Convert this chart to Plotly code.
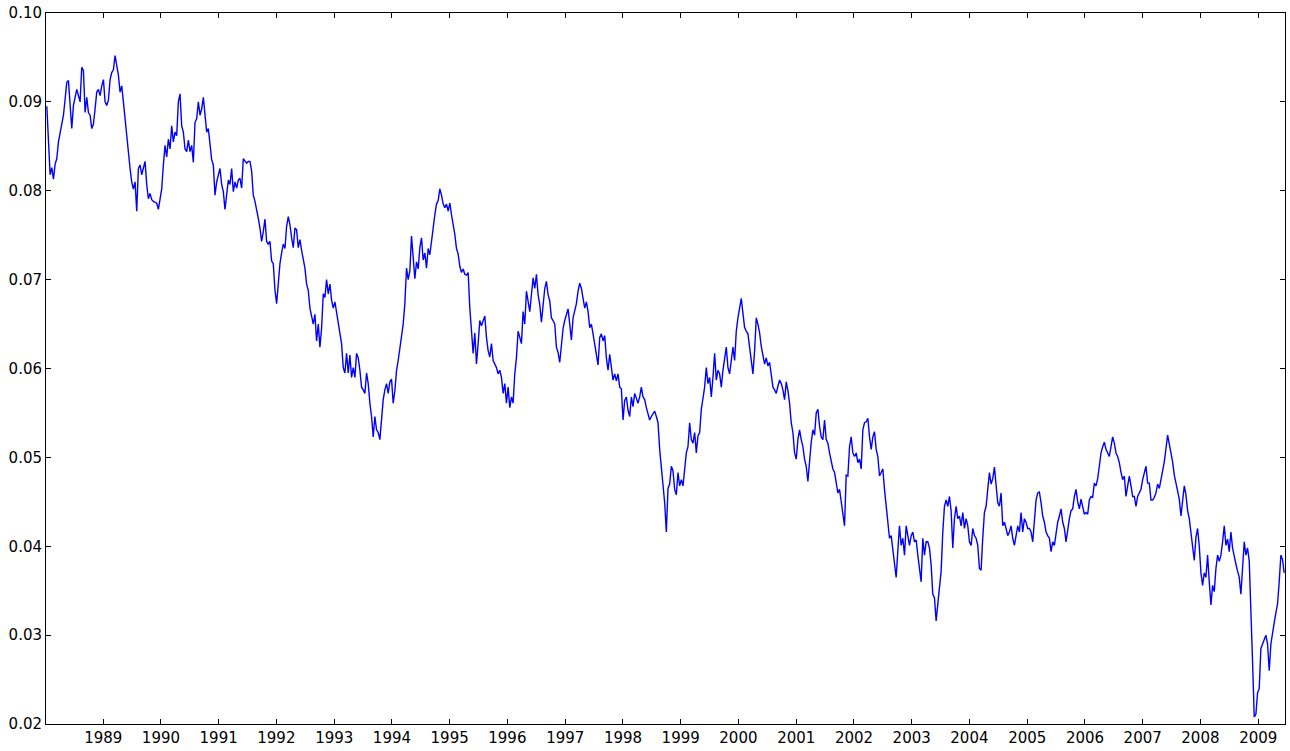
import pandas as pd
import plotly.graph_objects as go

# 10-year yield (decimal), every 10.5 days
seg_1988_89 = [0.0895, 0.0855, 0.0818, 0.0826, 0.0813, 0.0830, 0.0836, 0.0855, 0.0866, 0.0877,
               0.0885, 0.0903, 0.0922, 0.0924, 0.0895, 0.0870, 0.0896, 0.0907, 0.0914, 0.0907,
               0.0900, 0.0939, 0.0935, 0.0888, 0.0905, 0.0888, 0.0885, 0.0870, 0.0875, 0.0892,
               0.0911, 0.0914, 0.0907, 0.0918, 0.0925, 0.0900, 0.0896, 0.0902, 0.0925, 0.0933,
               0.0936, 0.0952, 0.0941, 0.0930, 0.0911, 0.0918, 0.0900, 0.0881, 0.0863, 0.0836,
               0.0825, 0.0810, 0.0802, 0.0810, 0.0777, 0.0825, 0.0829, 0.0818, 0.0825]
seg_1989_91 = [0.0833, 0.0807, 0.0791, 0.0797, 0.0790, 0.0788, 0.0787, 0.0786, 0.0779, 0.0793,
               0.0802, 0.0829, 0.0851, 0.0838, 0.0858, 0.0847, 0.0873, 0.0855, 0.0866, 0.0862,
               0.0900, 0.0909, 0.0873, 0.0866, 0.0847, 0.0844, 0.0857, 0.0844, 0.0851, 0.0832,
               0.0877, 0.0881, 0.0900, 0.0885, 0.0892, 0.0905, 0.0885, 0.0866, 0.0870, 0.0851,
               0.0835, 0.0829, 0.0795, 0.0810, 0.0818, 0.0825, 0.0807, 0.0799, 0.0779, 0.0799,
               0.0812, 0.0807, 0.0825, 0.0799, 0.0810, 0.0803, 0.0812, 0.0814, 0.0803, 0.0836,
               0.0833, 0.0831, 0.0833]
seg_1991_93 = [0.0833, 0.0822, 0.0795, 0.0788, 0.0780, 0.0769, 0.0758, 0.0743, 0.0754, 0.0768,
               0.0743, 0.0740, 0.0743, 0.0721, 0.0718, 0.0688, 0.0673, 0.0695, 0.0718, 0.0730,
               0.0740, 0.0735, 0.0760, 0.0771, 0.0762, 0.0747, 0.0736, 0.0758, 0.0756, 0.0736,
               0.0745, 0.0733, 0.0724, 0.0713, 0.0695, 0.0688, 0.0668, 0.0657, 0.0650, 0.0661,
               0.0631, 0.0650, 0.0624, 0.0645, 0.0684, 0.0680, 0.0700, 0.0684, 0.0695, 0.0677,
               0.0668, 0.0675, 0.0662, 0.0654, 0.0639, 0.0628, 0.0601, 0.0595, 0.0617, 0.0595,
               0.0615, 0.0590, 0.0601]
seg_1993_95 = [0.0590, 0.0617, 0.0612, 0.0598, 0.0579, 0.0576, 0.0572, 0.0595, 0.0583, 0.0561,
               0.0546, 0.0523, 0.0546, 0.0531, 0.0528, 0.0520, 0.0546, 0.0565, 0.0576, 0.0583,
               0.0572, 0.0585, 0.0588, 0.0561, 0.0575, 0.0598, 0.0609, 0.0624, 0.0639, 0.0650,
               0.0673, 0.0713, 0.0700, 0.0710, 0.0749, 0.0720, 0.0701, 0.0720, 0.0712, 0.0736,
               0.0747, 0.0722, 0.0730, 0.0713, 0.0735, 0.0728, 0.0747, 0.0758, 0.0773, 0.0785,
               0.0789, 0.0802, 0.0795, 0.0785, 0.0781, 0.0785, 0.0777, 0.0786, 0.0773, 0.0762]
seg_1995_96 = [0.0751, 0.0735, 0.0729, 0.0715, 0.0708, 0.0712, 0.0706, 0.0705, 0.0708, 0.0668,
               0.0646, 0.0617, 0.0640, 0.0605, 0.0628, 0.0654, 0.0648, 0.0654, 0.0659, 0.0635,
               0.0620, 0.0613, 0.0628, 0.0609, 0.0605, 0.0601, 0.0594, 0.0598, 0.0590, 0.0572,
               0.0583, 0.0561, 0.0579, 0.0556, 0.0568, 0.0561, 0.0594, 0.0612, 0.0642, 0.0635,
               0.0628, 0.0664, 0.0650, 0.0687, 0.0676, 0.0664, 0.0683, 0.0702, 0.0690, 0.0706,
               0.0683, 0.0672, 0.0652, 0.0668, 0.0690, 0.0698, 0.0683, 0.0676, 0.0657, 0.0654]
seg_1996_98 = [0.0650, 0.0624, 0.0618, 0.0607, 0.0626, 0.0645, 0.0654, 0.0660, 0.0667, 0.0650,
               0.0632, 0.0657, 0.0664, 0.0673, 0.0687, 0.0696, 0.0690, 0.0679, 0.0668, 0.0675,
               0.0664, 0.0646, 0.0650, 0.0639, 0.0628, 0.0620, 0.0604, 0.0635, 0.0639, 0.0631,
               0.0637, 0.0612, 0.0598, 0.0616, 0.0598, 0.0587, 0.0594, 0.0586, 0.0594, 0.0579,
               0.0577, 0.0542, 0.0564, 0.0568, 0.0553, 0.0546, 0.0568, 0.0557, 0.0572, 0.0565,
               0.0561, 0.0568, 0.0579, 0.0568, 0.0565, 0.0556, 0.0549, 0.0542, 0.0546, 0.0550]
seg_1998_00 = [0.0552, 0.0546, 0.0539, 0.0509, 0.0490, 0.0475, 0.0449, 0.0416, 0.0465, 0.0470,
               0.0490, 0.0485, 0.0464, 0.0458, 0.0483, 0.0468, 0.0475, 0.0468, 0.0490, 0.0505,
               0.0512, 0.0539, 0.0520, 0.0516, 0.0528, 0.0505, 0.0524, 0.0528, 0.0554, 0.0565,
               0.0579, 0.0601, 0.0583, 0.0590, 0.0568, 0.0590, 0.0617, 0.0587, 0.0598, 0.0594,
               0.0579, 0.0598, 0.0612, 0.0624, 0.0601, 0.0594, 0.0609, 0.0624, 0.0609, 0.0642,
               0.0657, 0.0668, 0.0679, 0.0662, 0.0646, 0.0642, 0.0639, 0.0624, 0.0605, 0.0594]
seg_2000_02 = [0.0620, 0.0657, 0.0650, 0.0640, 0.0625, 0.0615, 0.0605, 0.0612, 0.0603, 0.0607,
               0.0590, 0.0579, 0.0576, 0.0572, 0.0580, 0.0587, 0.0583, 0.0576, 0.0565, 0.0585,
               0.0575, 0.0561, 0.0539, 0.0528, 0.0505, 0.0498, 0.0520, 0.0531, 0.0520, 0.0512,
               0.0498, 0.0490, 0.0473, 0.0498, 0.0517, 0.0531, 0.0525, 0.0550, 0.0554, 0.0535,
               0.0523, 0.0520, 0.0542, 0.0520, 0.0516, 0.0505, 0.0494, 0.0487, 0.0483, 0.0471,
               0.0460, 0.0464, 0.0452, 0.0438, 0.0423, 0.0480, 0.0479, 0.0512, 0.0523, 0.0505]
seg_2002_03 = [0.0501, 0.0505, 0.0494, 0.0498, 0.0487, 0.0531, 0.0539, 0.0540, 0.0544, 0.0523,
               0.0509, 0.0523, 0.0529, 0.0509, 0.0501, 0.0479, 0.0483, 0.0487, 0.0464, 0.0445,
               0.0431, 0.0409, 0.0412, 0.0398, 0.0380, 0.0365, 0.0395, 0.0423, 0.0401, 0.0409,
               0.0390, 0.0423, 0.0412, 0.0401, 0.0412, 0.0416, 0.0405, 0.0407, 0.0390, 0.0372,
               0.0360, 0.0409, 0.0390, 0.0405, 0.0405, 0.0398, 0.0379, 0.0346, 0.0342, 0.0316,
               0.0335, 0.0360, 0.0372, 0.0416, 0.0445, 0.0452, 0.0445, 0.0456, 0.0440, 0.0398]
seg_2003_05 = [0.0431, 0.0445, 0.0431, 0.0434, 0.0423, 0.0438, 0.0420, 0.0431, 0.0423, 0.0405,
               0.0401, 0.0420, 0.0412, 0.0409, 0.0401, 0.0375, 0.0373, 0.0410, 0.0438, 0.0445,
               0.0468, 0.0483, 0.0470, 0.0476, 0.0489, 0.0468, 0.0449, 0.0445, 0.0460, 0.0423,
               0.0427, 0.0420, 0.0412, 0.0416, 0.0423, 0.0409, 0.0401, 0.0412, 0.0423, 0.0416,
               0.0438, 0.0416, 0.0431, 0.0427, 0.0420, 0.0420, 0.0416, 0.0405, 0.0434, 0.0452,
               0.0460, 0.0461, 0.0449, 0.0434, 0.0427, 0.0416, 0.0412, 0.0409, 0.0394, 0.0405]
seg_2005_07 = [0.0401, 0.0416, 0.0427, 0.0434, 0.0442, 0.0427, 0.0420, 0.0405, 0.0420, 0.0431,
               0.0440, 0.0442, 0.0456, 0.0464, 0.0450, 0.0442, 0.0453, 0.0445, 0.0436, 0.0438,
               0.0436, 0.0452, 0.0456, 0.0455, 0.0471, 0.0468, 0.0476, 0.0490, 0.0505, 0.0512,
               0.0517, 0.0509, 0.0505, 0.0501, 0.0512, 0.0523, 0.0516, 0.0505, 0.0501, 0.0494,
               0.0483, 0.0475, 0.0479, 0.0456, 0.0468, 0.0479, 0.0468, 0.0456, 0.0456, 0.0445,
               0.0456, 0.0460, 0.0464, 0.0475, 0.0483, 0.0490, 0.0471, 0.0471, 0.0452, 0.0452]
seg_2007_09 = [0.0455, 0.0460, 0.0470, 0.0465, 0.0475, 0.0485, 0.0495, 0.0510, 0.0525, 0.0515,
               0.0505, 0.0495, 0.0480, 0.0470, 0.0462, 0.0453, 0.0434, 0.0455, 0.0468, 0.0458,
               0.0440, 0.0431, 0.0416, 0.0401, 0.0384, 0.0410, 0.0420, 0.0400, 0.0370, 0.0356,
               0.0370, 0.0365, 0.0390, 0.0360, 0.0334, 0.0356, 0.0349, 0.0375, 0.0390, 0.0383,
               0.0390, 0.0405, 0.0423, 0.0401, 0.0408, 0.0394, 0.0416, 0.0398, 0.0387, 0.0380,
               0.0372, 0.0365, 0.0346, 0.0375, 0.0405, 0.0390, 0.0398, 0.0383, 0.0312, 0.0270,
               0.0208, 0.0211, 0.0235, 0.0240, 0.0285, 0.0290, 0.0294, 0.0300, 0.0290, 0.0260,
               0.0290, 0.0300, 0.0314, 0.0325, 0.0335, 0.0360, 0.0390, 0.0385, 0.0370]

yields = (seg_1988_89 + seg_1989_91 + seg_1991_93 + seg_1993_95 + seg_1995_96 + seg_1996_98
          + seg_1998_00 + seg_2000_02 + seg_2002_03 + seg_2003_05 + seg_2005_07 + seg_2007_09)
dates = pd.date_range(start="1988-01-10", end="2009-06-14", periods=len(yields))

y_ticks = [0.02, 0.03, 0.04, 0.05, 0.06, 0.07, 0.08, 0.09, 0.10]
y_tick_labels = ["0.02", "0.03", "0.04", "0.05", "0.06", "0.07", "0.08", "0.09", "0.10"]

fig = go.Figure()
fig.add_trace(go.Scatter(x=dates, y=yields, mode="lines",
                         line=dict(color="#0000ff", width=1.4), showlegend=False,
                         hoverinfo="skip"))

axis_common = dict(showline=True, linecolor="black", linewidth=1, mirror="ticks",
                   ticks="inside", ticklen=5, tickwidth=1, tickcolor="black",
                   showgrid=False, zeroline=False,
                   tickfont=dict(family="DejaVu Sans", size=15, color="black"))

fig.update_layout(
    width=1290, height=751,
    margin=dict(l=46, r=4, t=10, b=24, pad=0),
    paper_bgcolor="white", plot_bgcolor="white",
    xaxis=dict(type="date", range=["1988-01-05", "2009-06-19"],
               tick0="1989-01-01", dtick="M12", tickformat="%Y", **axis_common),
    yaxis=dict(range=[0.02, 0.10], tickvals=y_ticks, ticktext=y_tick_labels, **axis_common),
)

fig.write_html("out.html")
